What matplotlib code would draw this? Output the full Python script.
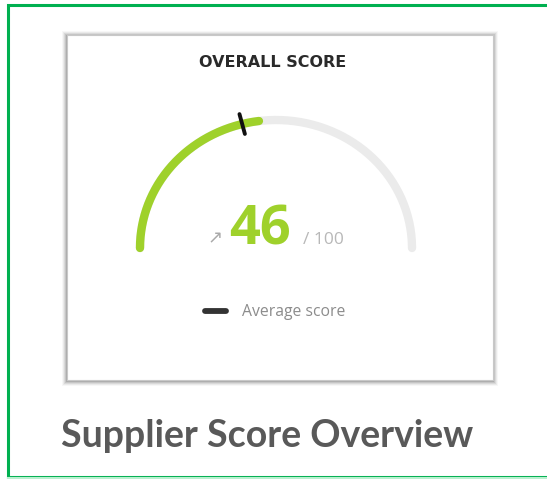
import numpy as np
import matplotlib
matplotlib.use('Agg')
import matplotlib.pyplot as plt
from matplotlib.patches import Rectangle

OUT_IMG = 'out.png'

score = 46
max_score = 100
average_score = 42
card_title = 'OVERALL SCORE'
legend_label = 'Average score'
page_title = 'Supplier Score Overview'

GREEN = '#9fd12b'
TRACK = '#ebebeb'

W, H = 547, 479
fig = plt.figure(figsize=(W / 100, H / 100), dpi=100)
ax = fig.add_axes([0, 0, 1, 1])
ax.set_xlim(0, W)
ax.set_ylim(H, 0)
ax.axis('off')

# outer green frame (runs past the right edge)
ax.plot([W + 5, 7.5, 7.5, W + 5], [4.5, 4.5, 477, 477], color='#00b050', lw=2.2,
        solid_joinstyle='miter', clip_on=False)
ax.plot([8, W + 5], [477.5, 477.5], color='#b9f0cf', lw=1.5)

# card with soft shadow
cx0, cy0, cw, ch = 67, 35, 426, 345
for i, a in enumerate([0.03, 0.05, 0.07, 0.09, 0.12]):
    pad = 5 - i
    ax.add_patch(Rectangle((cx0 - pad, cy0 - pad + 1), cw + 2 * pad, ch + 2 * pad,
                           facecolor='black', alpha=a, edgecolor='none'))
ax.add_patch(Rectangle((cx0, cy0), cw, ch, facecolor='white', edgecolor='#c8c8c8', lw=0.8))

ax.text(273, 62, card_title, ha='center', va='center', fontsize=11.5,
        fontweight='bold', color='#2a2a2a', family='DejaVu Sans')

# gauge
gx, gy, rx, ry = 276, 248, 136, 128


def arc(v0, v1, **kw):
    t = np.radians(180 - np.linspace(v0, v1, 200) / max_score * 180)
    ax.plot(gx + rx * np.cos(t), gy - ry * np.sin(t), solid_capstyle='round', **kw)


arc(0, max_score, color=TRACK, lw=6)
arc(0, score, color=GREEN, lw=6)

ta = np.radians(180 - average_score / max_score * 180)
k0, k1 = 0.92, 1.08
ax.plot([gx + k0 * rx * np.cos(ta), gx + k1 * rx * np.cos(ta)],
        [gy - k0 * ry * np.sin(ta), gy - k1 * ry * np.sin(ta)],
        color='#111111', lw=2.8, solid_capstyle='round')

ax.text(260, 244, str(score), ha='center', va='baseline', fontsize=39,
        fontweight='bold', color=GREEN, family='Open Sans')
ax.text(303, 244, '/ ' + str(max_score), ha='left', va='baseline', fontsize=12.5,
        color='#b8b8b8', family='Open Sans')
ax.text(223, 243, '\u2197', ha='right', va='baseline', fontsize=13,
        color='#aaaaaa', family='DejaVu Sans')

# legend
ax.plot([205, 226], [311, 311], color='#333333', lw=4.2, solid_capstyle='round')
ax.text(242, 312, legend_label, ha='left', va='center', fontsize=11.3,
        color='#8c8c8c', family='Open Sans')

ax.text(267, 436, page_title, ha='center', va='center', fontsize=27,
        fontweight='bold', color='#595959', family='Lato')

plt.savefig(OUT_IMG, dpi=100)
